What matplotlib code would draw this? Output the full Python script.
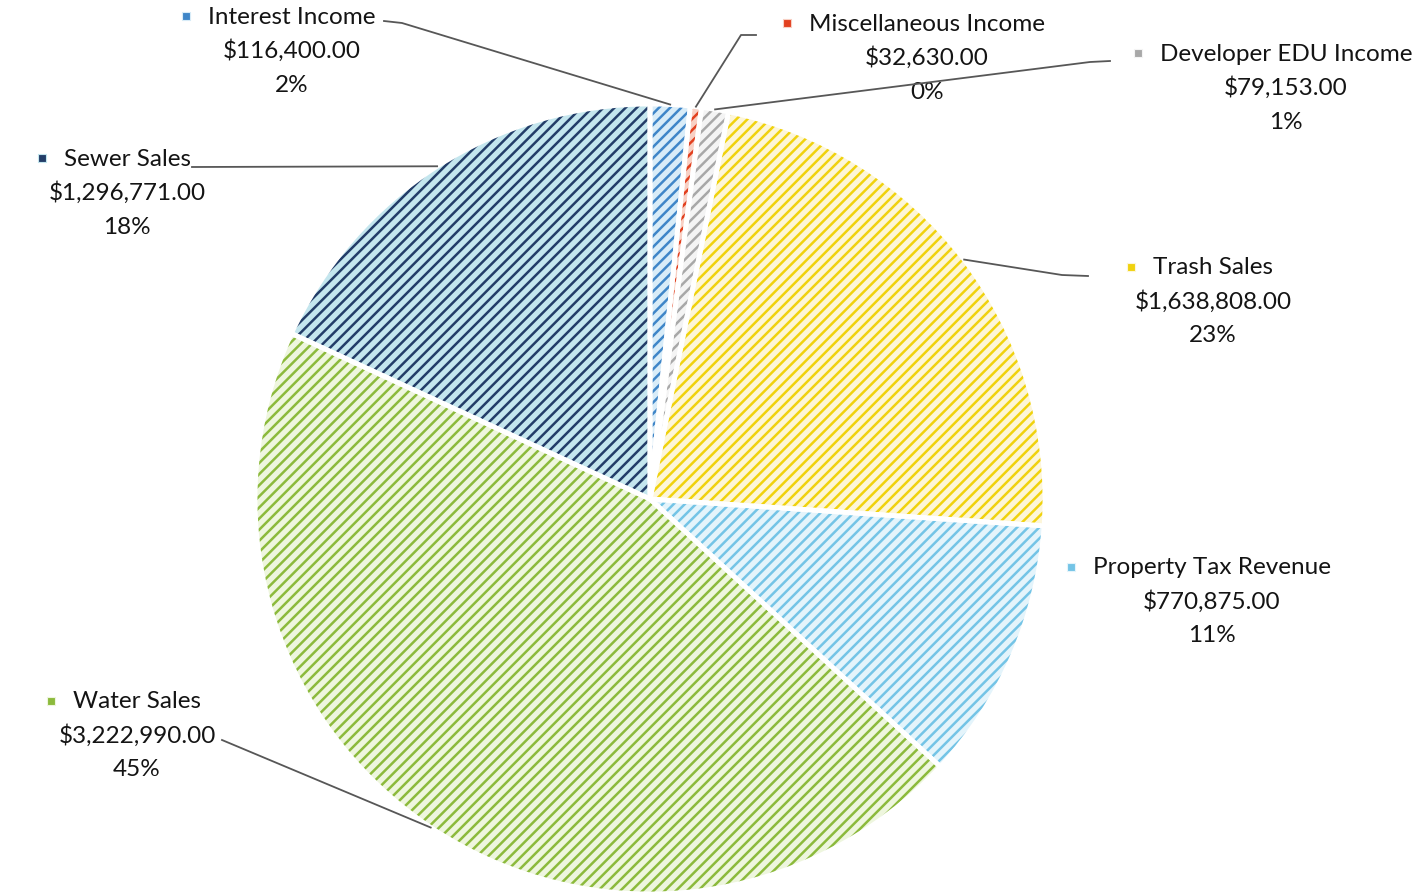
import numpy as np
import matplotlib.pyplot as plt

W, H = 1426, 895

categories = ['Interest Income', 'Miscellaneous Income', 'Developer EDU Income',
              'Trash Sales', 'Property Tax Revenue', 'Water Sales', 'Sewer Sales']
amounts = [116400.00, 32630.00, 79153.00, 1638808.00, 770875.00, 3222990.00, 1296771.00]

hatch_colors = ['#3f86c8', '#e2401f', '#a8a8a8', '#f0d20e', '#74c4e6', '#8cba3c', '#233d68']
face_colors = ['#d8ecf8', '#f8d0c4', '#f4f4f4', '#fdf6d8', '#e4f4fb', '#eef6de', '#c4e6ee']

# label block: (center x, y of first line) in pixels from top-left
label_pos = [(292, 17), (927, 24), (1286, 54), (1213, 268), (1212, 568), (137, 702), (127, 159)]
# leader line waypoints from the label side, pixels from top-left
leader_pts = [[(384, 22), (402, 24)],
              [(756, 36), (741, 36)],
              [(1110, 62), (1090, 63)],
              [(1088, 277), (1062, 276)],
              [],
              [(222, 741)],
              [(192, 168)]]

plt.rcParams['font.family'] = ['Lato', 'DejaVu Sans']
plt.rcParams['hatch.linewidth'] = 1.8

fig = plt.figure(figsize=(W / 100, H / 100), dpi=100)
ax = fig.add_axes([0, 0, 1, 1])

def px(x, y):
    return x, H - y

center = px(650, 500)
radius = 395

# base fill, then hatch layer, then white separators on top
ax.pie(amounts, colors=face_colors, startangle=90, counterclock=False,
       center=center, radius=radius, frame=True,
       wedgeprops=dict(linewidth=0))
hatched, _ = ax.pie(amounts, colors=['none'] * len(amounts), startangle=90, counterclock=False,
                    center=center, radius=radius, frame=True,
                    wedgeprops=dict(linewidth=0))
for w, c in zip(hatched, hatch_colors):
    w.set_facecolor('none')
    w.set_edgecolor(c)
    w.set_linewidth(0)
    w.set_hatch('///')
ax.pie(amounts, colors=['none'] * len(amounts), startangle=90, counterclock=False,
       center=center, radius=radius, frame=True,
       wedgeprops=dict(linewidth=3.5, edgecolor='white', facecolor='none'))
ax.set_xlim(0, W)
ax.set_ylim(0, H)
ax.set_aspect('equal')
ax.axis('off')

total = sum(amounts)
renderer = fig.canvas.get_renderer()
for i, (name, val) in enumerate(zip(categories, amounts)):
    cx, y0 = label_pos[i]
    lines = [name, f'${val:,.2f}', f'{val / total * 100:.0f}%']
    first = None
    for k, s in enumerate(lines):
        t = ax.text(*px(cx, y0 + 34 * k), s, ha='center', va='center',
                    fontsize=17.5, color='#141414')
        if k == 0:
            first = t
    # small legend key left of the category name
    bb = first.get_window_extent(renderer)
    ax.scatter([bb.x0 - 22], [H - y0], marker='s', s=26, facecolor=hatch_colors[i],
               edgecolor=face_colors[i], linewidth=0.8, zorder=5)

    if leader_pts[i]:
        w = hatched[i]
        th = np.deg2rad((w.theta1 + w.theta2) / 2)
        ex = center[0] + radius * np.cos(th)
        ey = center[1] + radius * np.sin(th)
        xs = [p[0] for p in leader_pts[i]] + [ex]
        ys = [H - p[1] for p in leader_pts[i]] + [ey]
        ax.plot(xs, ys, color='#575757', linewidth=1.3, zorder=4)

fig.savefig('out.png', dpi=100)
